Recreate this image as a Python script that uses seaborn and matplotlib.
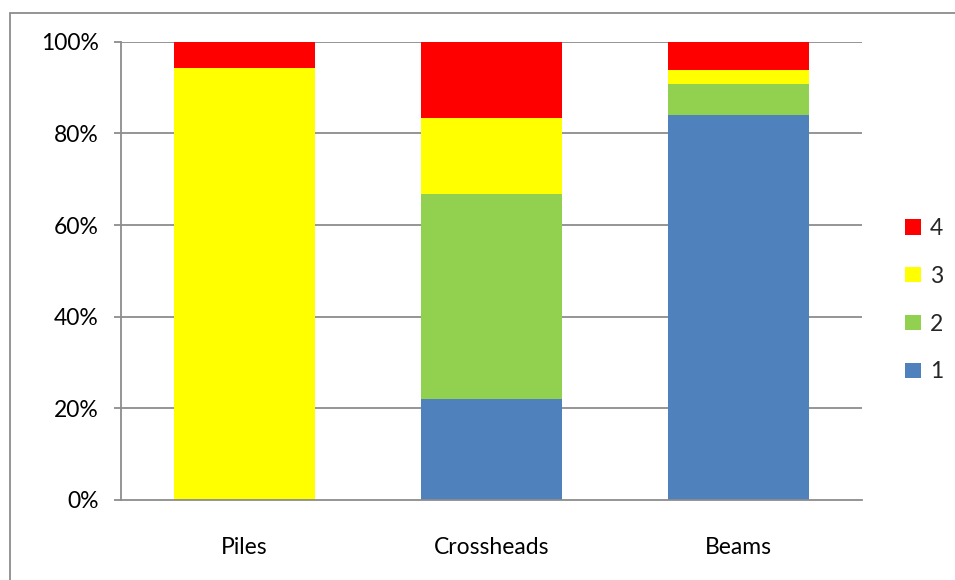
import matplotlib
matplotlib.use("Agg")
import matplotlib.pyplot as plt
from matplotlib.patches import Patch, Rectangle
from matplotlib.ticker import FuncFormatter
import pandas as pd
import seaborn as sns

# Share of each rating (percent of items) per component
components = ["Piles", "Crossheads", "Beams"]
rating_1 = [0.0, 22.0, 84.1]
rating_2 = [0.0, 44.8, 6.6]
rating_3 = [94.2, 16.5, 3.1]
rating_4 = [5.8, 16.7, 6.2]
ratings = ["1", "2", "3", "4"]
colors = {"1": "#4F81BD", "2": "#92D050", "3": "#FFFF00", "4": "#FF0000"}
y_ticks = [0, 20, 40, 60, 80, 100]

sns.set_theme(style="white")
plt.rcParams["font.family"] = ["Lato", "DejaVu Sans"]
FS = 16.5

df = pd.DataFrame({"component": components, "1": rating_1, "2": rating_2,
                   "3": rating_3, "4": rating_4})
cum = df[ratings].cumsum(axis=1)
cum["component"] = df["component"]

fig = plt.figure(figsize=(9.55, 5.8), dpi=100)
ax = fig.add_axes([121 / 955, 80 / 580, 741 / 955, 458.3 / 580])

grid_col = "#8C8C8C"
for y in y_ticks[1:]:
    ax.axhline(y, color=grid_col, lw=1.3, zorder=0)

# Stacked bars: draw cumulative tops from the highest segment down
for r in reversed(ratings):
    sns.barplot(data=cum, x="component", y=r, order=components, color=colors[r],
                width=0.574, saturation=1, ax=ax, zorder=2, linewidth=0)

ax.set_xlim(-0.5, 2.5)
ax.set_ylim(0, 100)
ax.set_yticks(y_ticks)
ax.yaxis.set_major_formatter(FuncFormatter(lambda v, p: f"{v:.0f}%"))
ax.set_xlabel("")
ax.set_ylabel("")

for s in ["top", "right"]:
    ax.spines[s].set_visible(False)
for s in ["left", "bottom"]:
    ax.spines[s].set_color(grid_col)
    ax.spines[s].set_linewidth(1.3)

ax.tick_params(axis="y", which="major", left=True, length=5, width=1.3,
               color=grid_col, pad=11, labelsize=FS, labelcolor="#000000")
ax.tick_params(axis="x", bottom=False, pad=21, labelsize=FS, labelcolor="#000000")

handles = [Patch(facecolor=colors[r], edgecolor="none", label=r) for r in reversed(ratings)]
ax.legend(handles=handles, loc="center left", bbox_to_anchor=(1.058, 0.436),
          frameon=False, fontsize=FS, handlelength=0.7, handleheight=0.65,
          handletextpad=0.4, labelspacing=1.17, borderaxespad=0, borderpad=0)

# Chart-area frame
fig.patches.append(Rectangle((9.5 / 955, -0.1), 1.2, 1.1 - 13 / 580,
                             transform=fig.transFigure, fill=False,
                             edgecolor="#8C8C8C", lw=1.3))

fig.savefig("out.png", dpi=100)
